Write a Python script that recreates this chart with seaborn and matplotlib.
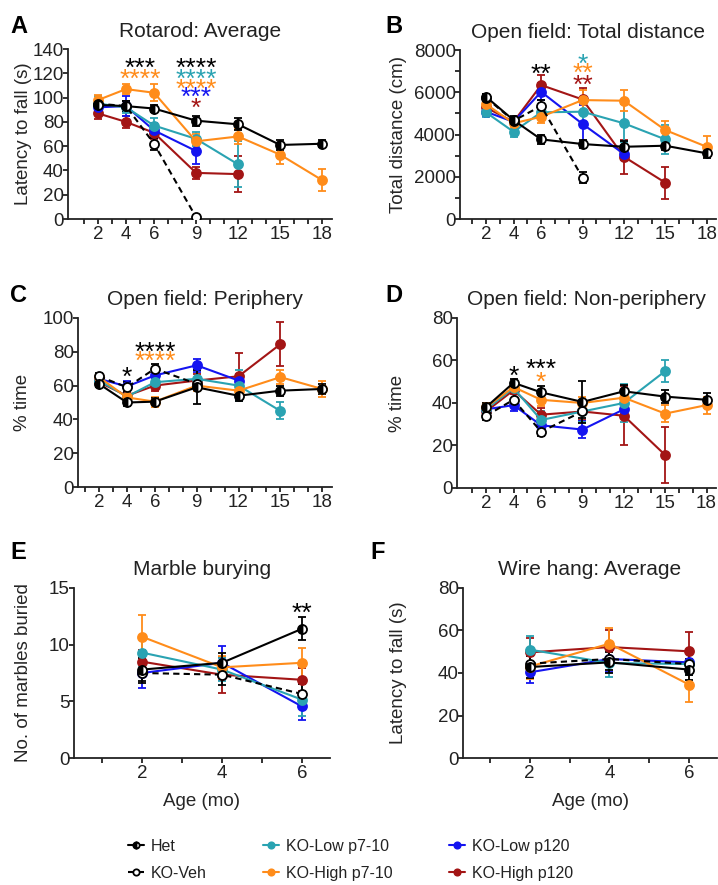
import numpy as np
import pandas as pd
import matplotlib
matplotlib.use("Agg")
import matplotlib.pyplot as plt
import matplotlib.transforms as mtransforms
import seaborn as sns
from matplotlib.ticker import MultipleLocator, FixedLocator

# -----------------------------
# Groups and styling
# -----------------------------
groups = ["Het", "KO-Veh", "KO-Low p7-10", "KO-High p7-10", "KO-Low p120", "KO-High p120"]
colors = {
    "Het": "black",
    "KO-Veh": "black",
    "KO-Low p7-10": "#2aa3b2",
    "KO-High p7-10": "#ff8c1a",
    "KO-Low p120": "#1414f0",
    "KO-High p120": "#a31515",
}
draw_order = ["KO-High p120", "KO-Low p120", "KO-Low p7-10", "KO-High p7-10", "KO-Veh", "Het"]

# -----------------------------
# Panel A: Rotarod average (s)
# -----------------------------
rot_age = {
    "Het": [2, 4, 6, 9, 12, 15, 18],
    "KO-Veh": [2, 4, 6, 9],
    "KO-Low p7-10": [2, 4, 6, 9, 12],
    "KO-High p7-10": [2, 4, 6, 9, 12, 15, 18],
    "KO-Low p120": [2, 4, 6, 9],
    "KO-High p120": [2, 4, 6, 9, 12],
}
rot_mean = {
    "Het": [94, 93, 91, 81, 78, 61, 62],
    "KO-Veh": [95, 93, 62, 1.5],
    "KO-Low p7-10": [95, 92, 77, 66, 45],
    "KO-High p7-10": [98, 107, 104, 64, 68, 53, 32],
    "KO-Low p120": [92, 93, 73, 56],
    "KO-High p120": [87, 80, 71, 38, 37],
}
rot_err = {
    "Het": [5, 4, 3, 4, 5, 4, 3],
    "KO-Veh": [4, 4, 5, 1],
    "KO-Low p7-10": [6, 5, 6, 6, 19],
    "KO-High p7-10": [4, 4, 7, 6, 6, 8, 9],
    "KO-Low p120": [5, 8, 6, 11],
    "KO-High p120": [5, 5, 5, 5, 15],
}

# -----------------------------
# Panel B: Open field total distance (cm)
# -----------------------------
dist_age = {
    "Het": [2, 4, 6, 9, 12, 15, 18],
    "KO-Veh": [2, 4, 6, 9],
    "KO-Low p7-10": [2, 4, 6, 9, 12, 15],
    "KO-High p7-10": [2, 4, 6, 9, 12, 15, 18],
    "KO-Low p120": [2, 4, 6, 9, 12],
    "KO-High p120": [2, 4, 6, 9, 12, 15],
}
dist_mean = {
    "Het": [5790, 4680, 3770, 3550, 3420, 3470, 3110],
    "KO-Veh": [5750, 4650, 5350, 1960],
    "KO-Low p7-10": [5050, 4130, 5050, 5080, 4530, 3770],
    "KO-High p7-10": [5440, 4530, 4840, 5630, 5600, 4210, 3420],
    "KO-Low p120": [5080, 4600, 6020, 4500, 3080],
    "KO-High p120": [5280, 4600, 6340, 5660, 2950, 1720],
}
dist_err = {
    "Het": [150, 200, 200, 200, 250, 200, 200],
    "KO-Veh": [150, 200, 300, 250],
    "KO-Low p7-10": [200, 250, 300, 600, 900, 700],
    "KO-High p7-10": [200, 200, 300, 500, 500, 450, 500],
    "KO-Low p120": [200, 200, 400, 900, 300],
    "KO-High p120": [200, 200, 500, 550, 800, 750],
}

# -----------------------------
# Panel C: Periphery (% time)
# -----------------------------
peri_age = {
    "Het": [2, 4, 6, 9, 12, 15, 18],
    "KO-Veh": [2, 4, 6, 9],
    "KO-Low p7-10": [2, 4, 6, 9, 12, 15],
    "KO-High p7-10": [2, 4, 6, 9, 12, 15, 18],
    "KO-Low p120": [2, 4, 6, 9, 12],
    "KO-High p120": [2, 4, 6, 9, 12, 15],
}
peri_mean = {
    "Het": [61, 50, 50.5, 59, 54, 57, 58],
    "KO-Veh": [65.5, 59, 70, 61],
    "KO-Low p7-10": [63, 53.5, 62, 64, 60, 45],
    "KO-High p7-10": [65, 53, 50.5, 60, 57, 65, 58],
    "KO-Low p120": [64, 59.5, 66, 72, 63],
    "KO-High p120": [62, 54, 60, 63, 65.5, 84.5],
}
peri_err = {
    "Het": [2, 2, 2, 10, 3, 3, 3],
    "KO-Veh": [2, 3, 3, 3],
    "KO-Low p7-10": [2, 2, 3, 5, 9, 5],
    "KO-High p7-10": [2, 2, 3, 3, 3, 4, 5],
    "KO-Low p120": [2, 3, 3, 4, 4],
    "KO-High p120": [2, 2, 3, 4, 14, 13],
}

# -----------------------------
# Panel D: Non-periphery (% time)
# -----------------------------
cent_age = peri_age
cent_mean = {
    "Het": [38, 49.5, 45, 40.5, 45.5, 43, 41.5],
    "KO-Veh": [34, 41.5, 26.5, 36],
    "KO-Low p7-10": [37, 47, 32, 36, 40, 55],
    "KO-High p7-10": [38, 47.5, 41.5, 40, 42.5, 35, 39],
    "KO-Low p120": [37, 39, 29.5, 27.5, 37],
    "KO-High p120": [36, 46, 34.5, 36, 34, 15.5],
}
cent_err = {
    "Het": [2, 2, 3, 10, 3, 3, 3],
    "KO-Veh": [2, 3, 2, 3],
    "KO-Low p7-10": [2, 2, 4, 5, 9, 5],
    "KO-High p7-10": [2, 2, 3, 3, 3, 4, 4],
    "KO-Low p120": [2, 3, 3, 4, 4],
    "KO-High p120": [2, 2, 3, 4, 14, 13],
}

# -----------------------------
# Panel E: Marble burying / Panel F: Wire hang
# -----------------------------
short_age = [2, 4, 6]
marble_mean = {
    "Het": [7.8, 8.4, 11.4],
    "KO-Veh": [7.5, 7.35, 5.65],
    "KO-Low p7-10": [9.3, 7.8, 5.15],
    "KO-High p7-10": [10.7, 8.0, 8.4],
    "KO-Low p120": [7.5, 8.4, 4.55],
    "KO-High p120": [8.5, 7.35, 6.9],
}
marble_err = {
    "Het": [1.0, 0.9, 1.0],
    "KO-Veh": [0.9, 0.9, 0.9],
    "KO-Low p7-10": [1.3, 1.0, 1.4],
    "KO-High p7-10": [1.9, 1.0, 1.3],
    "KO-Low p120": [1.3, 1.5, 1.2],
    "KO-High p120": [1.0, 1.6, 1.0],
}
wire_mean = {
    "Het": [42.8, 45, 41.6],
    "KO-Veh": [44.4, 46.6, 44.2],
    "KO-Low p7-10": [51, 44.7, 44.2],
    "KO-High p7-10": [43, 53.8, 34.5],
    "KO-Low p120": [40.3, 46.6, 45],
    "KO-High p120": [49.7, 52.2, 50.2],
}
wire_err = {
    "Het": [5, 5, 5],
    "KO-Veh": [5, 5, 5],
    "KO-Low p7-10": [6.5, 6.5, 5],
    "KO-High p7-10": [6, 7.5, 8],
    "KO-Low p120": [5, 6, 6],
    "KO-High p120": [7, 8, 9],
}

# significance marks: (x, y centre, text, group colour key)
stars_a = [(5, 130, "***", "Het"), (9, 130, "****", "Het"), (5, 121, "****", "KO-High p7-10"),
           (9, 121, "****", "KO-Low p7-10"), (9, 113, "****", "KO-High p7-10"),
           (9, 106, "***", "KO-Low p120"), (9, 97, "*", "KO-High p120")]
stars_b = [(6, 7200, "**", "Het"), (9, 7680, "*", "KO-Low p7-10"),
           (9, 7240, "**", "KO-High p7-10"), (9, 6700, "**", "KO-High p120")]
stars_c = [(4, 69.5, "*", "Het"), (6, 84, "****", "Het"), (6, 78.6, "****", "KO-High p7-10")]
stars_d = [(4, 56, "*", "Het"), (6, 59.4, "***", "Het"), (6, 53.4, "*", "KO-High p7-10")]
stars_e = [(6, 13.4, "**", "Het")]

# -----------------------------
# Plot
# -----------------------------
sns.set_theme(style="ticks")
plt.rcParams["font.family"] = ["Liberation Sans", "DejaVu Sans"]
plt.rcParams["axes.linewidth"] = 1.3
plt.rcParams["xtick.major.width"] = 1.3
plt.rcParams["ytick.major.width"] = 1.3
plt.rcParams["xtick.minor.width"] = 1.3
plt.rcParams["ytick.minor.width"] = 1.3
plt.rcParams["xtick.color"] = "#222222"
plt.rcParams["ytick.color"] = "#222222"
plt.rcParams["axes.edgecolor"] = "#222222"
plt.rcParams["text.color"] = "#222222"

W, H = 718, 885
fig = plt.figure(figsize=(W / 100, H / 100), dpi=100)


def draw_series(ax, ages, means, errs):
    for g in draw_order:
        x = ages[g] if isinstance(ages, dict) else ages
        y = means[g]
        c = colors[g]
        df = pd.DataFrame({"age": x, "val": y})
        ax.errorbar(x, y, yerr=errs[g], fmt="none", ecolor=c, elinewidth=1.3,
                    capsize=3, capthick=1.3, zorder=3)
        if g == "Het":
            kw = dict(marker="o", fillstyle="left", markerfacecolor="black",
                      markerfacecoloralt="white", markeredgecolor="black")
            ls = "-"
        elif g == "KO-Veh":
            kw = dict(marker="o", markerfacecolor="white", markeredgecolor="black")
            ls = (0, (3, 2))
        else:
            kw = dict(marker="o", markerfacecolor=c, markeredgecolor=c)
            ls = "-"
        sns.lineplot(data=df, x="age", y="val", ax=ax, color=c, linestyle=ls,
                     linewidth=1.5, markersize=6.5, markeredgewidth=1.3,
                     zorder=4, label=g, legend=False, **kw)


def style_axes(ax, ylim, yticks, xlim, xticks, xminor, ylabel, title, label_px, yminor=None):
    ax.set_ylim(*ylim)
    ax.set_yticks(yticks)
    ax.set_xlim(*xlim)
    ax.set_xticks(xticks)
    ax.xaxis.set_minor_locator(FixedLocator(xminor))
    if yminor is not None:
        ax.yaxis.set_minor_locator(MultipleLocator(yminor))
        ax.tick_params(axis="y", which="minor", length=3.5)
    ax.tick_params(axis="both", which="major", labelsize=13.5, length=3.5)
    ax.tick_params(axis="y", which="major", pad=-0.5)
    ax.tick_params(axis="x", which="major", pad=1.5)
    ax.tick_params(axis="x", which="minor", length=3.5)
    ax.set_ylabel(ylabel, fontsize=13.5)
    # y labels sit at a fixed x position (right edge), as in the original figure
    pos = ax.get_position()
    ax.yaxis.set_label_coords(label_px / W, pos.y0 + pos.height / 2, transform=fig.transFigure)
    ax.set_xlabel("")
    ax.set_title(title, fontsize=15, pad=9)
    sns.despine(ax=ax)


def add_stars(ax, stars):
    # Arial-style asterisk sits at cap height; anchor its top a few pixels above centre
    trans = mtransforms.offset_copy(ax.transData, fig=fig, x=0, y=4, units="dots")
    for x, y, s, g in stars:
        ax.text(x, y, s, color=colors[g], fontsize=19, ha="center", va="top",
                transform=trans, zorder=6)


long_ticks = [2, 4, 6, 9, 12, 15, 18]
long_minor = list(range(1, 19))

axA = fig.add_axes([0.0947, 0.7525, 0.3677, 0.1921])
draw_series(axA, rot_age, rot_mean, rot_err)
style_axes(axA, (0, 140), np.arange(0, 141, 20), (-0.14, 18.7), long_ticks, long_minor,
           "Latency to fall (s)", "Rotarod: Average", 32)
add_stars(axA, stars_a)

axB = fig.add_axes([0.6407, 0.7525, 0.357, 0.191])
draw_series(axB, dist_age, dist_mean, dist_err)
style_axes(axB, (0, 8000), np.arange(0, 8001, 2000), (0.12, 18.7), long_ticks, long_minor,
           "Total distance (cm)", "Open field: Total distance", 407, yminor=1000)
add_stars(axB, stars_b)

axC = fig.add_axes([0.1086, 0.4497, 0.3538, 0.191])
draw_series(axC, peri_age, peri_mean, peri_err)
style_axes(axC, (0, 100), np.arange(0, 101, 20), (0.49, 18.7), long_ticks, long_minor,
           "% time", "Open field: Periphery", 31)
add_stars(axC, stars_c)

axD = fig.add_axes([0.6365, 0.4486, 0.361, 0.1921])
draw_series(axD, cent_age, cent_mean, cent_err)
style_axes(axD, (0, 80), np.arange(0, 81, 20), (-0.1, 18.7), long_ticks, long_minor,
           "% time", "Open field: Non-periphery", 406)
add_stars(axD, stars_d)

axE = fig.add_axes([0.103, 0.1435, 0.3566, 0.1921])
draw_series(axE, short_age, marble_mean, marble_err)
style_axes(axE, (0, 15), [0, 5, 10, 15], (0.3, 6.7), [2, 4, 6], [1, 3, 5],
           "No. of marbles buried", "Marble burying", 32)
axE.set_xlabel("Age (mo)", fontsize=13.5, labelpad=8)
add_stars(axE, stars_e)

axF = fig.add_axes([0.6448, 0.1435, 0.354, 0.1921])
draw_series(axF, short_age, wire_mean, wire_err)
style_axes(axF, (0, 80), np.arange(0, 81, 20), (0.33, 6.7), [2, 4, 6], [1, 3, 5],
           "Latency to fall (s)", "Wire hang: Average", 407)
axF.set_xlabel("Age (mo)", fontsize=13.5, labelpad=8)

# panel letters (figure pixel positions)
for lx, ly, letter in [(10, 15, "A"), (385, 15, "B"), (10, 284, "C"),
                       (385, 284, "D"), (10, 541, "E"), (370, 541, "F")]:
    fig.text(lx / W, 1 - ly / H, letter, fontsize=17, fontweight="bold",
             ha="left", va="top", color="black")

# legend from panel E handles
handles, labels = axE.get_legend_handles_labels()
order = [labels.index(g) for g in groups]
fig.legend([handles[i] for i in order], [labels[i] for i in order],
           loc="upper left", bbox_to_anchor=(128 / W, 1 - 839 / H), ncol=3, frameon=False,
           fontsize=11.5, handlelength=1.0, handletextpad=0.45, columnspacing=3.5,
           labelspacing=0.75, markerscale=0.7, borderpad=0, borderaxespad=0)

plt.savefig("out.png", dpi=100)
plt.close()
